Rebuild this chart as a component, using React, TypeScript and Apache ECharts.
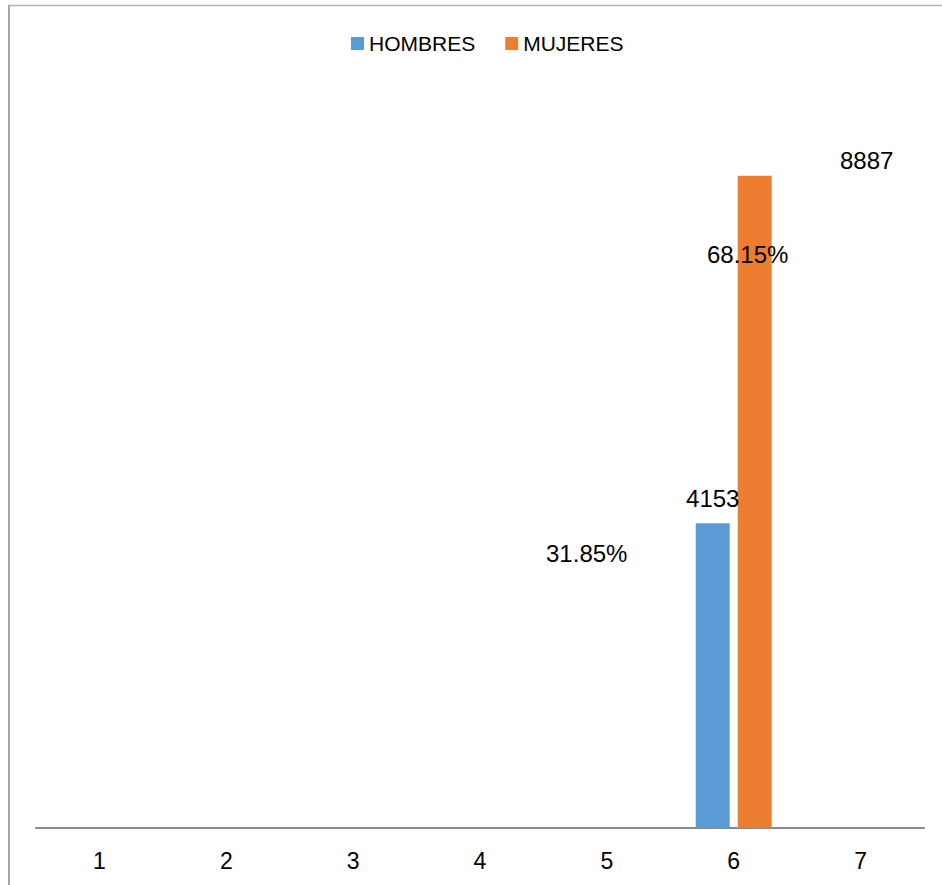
import React, { useEffect, useRef } from "react";
import * as echarts from "echarts";

const categories = ["1", "2", "3", "4", "5", "6", "7"];
const hombres = [null, null, null, null, null, 4153, null];
const mujeres = [null, null, null, null, null, 8887, null];
const seriesNames = ["HOMBRES", "MUJERES"];
const colors = ["#5B9BD5", "#ED7D31"];

const total = 4153 + 8887;
const pct = (v: number) => ((v / total) * 100).toFixed(2) + "%";

export default function App() {
  const ref = useRef<HTMLDivElement>(null);

  useEffect(() => {
    if (!ref.current) return;
    const chart = echarts.init(ref.current, null, { renderer: "svg" });
    const font = "'Liberation Sans', Arial, sans-serif";
    const catIdx = 5;

    chart.setOption({
      animation: false,
      backgroundColor: "#ffffff",
      textStyle: { fontFamily: font },
      legend: {
        data: seriesNames,
        left: 346,
        top: 28,
        itemWidth: 13,
        itemHeight: 13,
        itemGap: 30,
        icon: "rect",
        textStyle: { fontSize: 21, color: "#000", fontFamily: font },
      },
      grid: { left: 36, right: 18, top: 94, bottom: 57 },
      xAxis: {
        type: "category",
        data: categories,
        axisLine: { lineStyle: { color: "#898989", width: 2 } },
        axisTick: { show: false },
        axisLabel: { fontSize: 23, color: "#000", margin: 21, fontFamily: font },
      },
      yAxis: {
        type: "value",
        min: 0,
        max: 10000,
        show: false,
        splitLine: { show: false },
      },
      graphic: [
        {
          type: "line",
          shape: { x1: 9, y1: 5, x2: 9, y2: 885 },
          style: { stroke: "#A6A6A6", lineWidth: 2 },
        },
        {
          type: "line",
          shape: { x1: 8, y1: 5.5, x2: 942, y2: 5.5 },
          style: { stroke: "#B4B4B4", lineWidth: 1.5 },
        },
      ],
      series: [
        {
          name: seriesNames[0],
          type: "bar",
          data: hombres,
          barWidth: 34,
          barGap: "23.5%",
          itemStyle: { color: colors[0] },
          label: {
            show: true,
            position: "top",
            distance: 5,
            offset: [0, -8],
            fontSize: 24,
            color: "#000",
            fontFamily: font,
          },
          markPoint: {
            symbol: "circle",
            symbolSize: 1,
            itemStyle: { color: "rgba(0,0,0,0)" },
            data: [
              {
                coord: [categories[catIdx], hombres[catIdx]],
                value: pct(hombres[catIdx] as number),
                label: {
                  show: true,
                  position: "inside",
                  offset: [-126, 30],
                  fontSize: 24,
                  color: "#000",
                  fontFamily: font,
                  formatter: "{c}",
                },
              },
            ],
          },
        },
        {
          name: seriesNames[1],
          type: "bar",
          data: mujeres,
          barWidth: 34,
          barGap: "23.5%",
          itemStyle: { color: colors[1] },
          label: {
            show: true,
            position: "top",
            distance: 5,
            offset: [112, 2],
            fontSize: 24,
            color: "#000",
            fontFamily: font,
          },
          markPoint: {
            symbol: "circle",
            symbolSize: 1,
            itemStyle: { color: "rgba(0,0,0,0)" },
            data: [
              {
                coord: [categories[catIdx], mujeres[catIdx]],
                value: pct(mujeres[catIdx] as number),
                label: {
                  show: true,
                  position: "inside",
                  offset: [-7, 79],
                  fontSize: 24,
                  color: "#000",
                  fontFamily: font,
                  formatter: "{c}",
                },
              },
            ],
          },
        },
      ],
    });

    return () => chart.dispose();
  }, []);

  return (
    <div
      ref={ref}
      style={{ position: "absolute", left: 0, top: 0, width: 942, height: 885 }}
    />
  );
}
